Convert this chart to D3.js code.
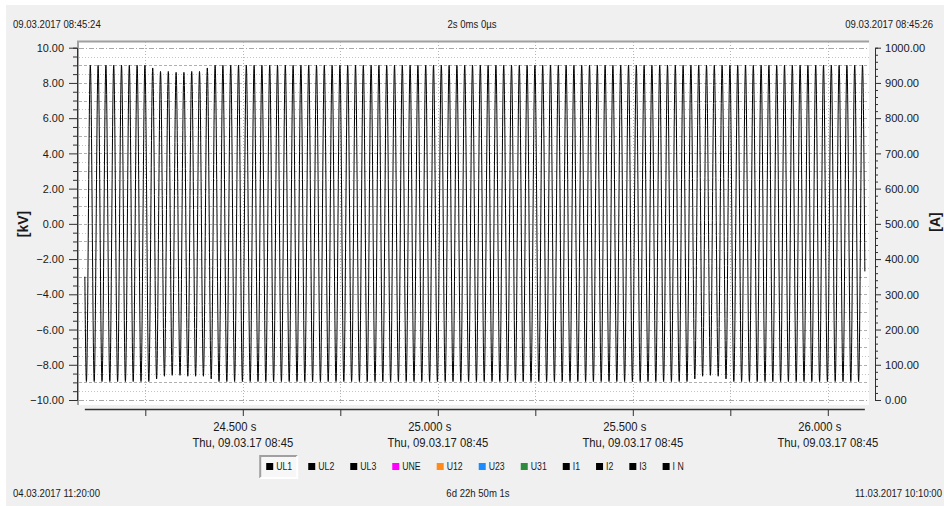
<!DOCTYPE html>
<html>
<head>
<meta charset="utf-8">
<script src="https://cdn.jsdelivr.net/npm/d3@7/dist/d3.min.js"></script>
<style>
  body { margin: 0; background: #fff; }
  svg { display: block; font-family: 'Liberation Sans', Arial, sans-serif; }
  .axis text { fill: #1a1a1a; }
  .axis line, .axis path { stroke: #303030; }
</style>
</head>
<body>
<svg id="chart" width="944" height="506"></svg>
<script>

// header / footer texts
var viewStart = '09.03.2017 08:45:24';
var viewEnd = '09.03.2017 08:45:26';
var viewSpan = '2s 0ms 0\u00b5s';
var rangeStart = '04.03.2017 11:20:00';
var rangeEnd = '11.03.2017 10:10:00';
var rangeSpan = '6d 22h 50m 1s';

// axes
var kvTicks = [ -10, -8, -6, -4, -2, 0, 2, 4, 6, 8, 10 ];
var ampTicks = [ 0, 100, 200, 300, 400, 500, 600, 700, 800, 900, 1000 ];
var timeTicks = [ 24.5, 25.0, 25.5, 26.0 ];
var timeMinor = [ 24.25, 24.75, 25.25, 25.75 ];
var timeDate = 'Thu, 09.03.17 08:45';

// legend
var channels = [ 'UL1', 'UL2', 'UL3', 'UNE', 'U12', 'U23', 'U31', 'I1', 'I2', 'I3', 'I N' ];
var channelColors = [ '#000000', '#000000', '#000000', '#ff00ff', '#ff8c1a', '#1a8cff', '#2e8b3e',
                      '#000000', '#000000', '#000000', '#000000' ];

// UL1 trace [kV] : one positive and one negative peak per 50 Hz cycle
var dataStart = 24.095, dataEnd = 26.095;
var startValue = -3.0, endValue = -2.7;
var firstLow = 24.099, period = 0.02;

var ul1High = [
    9.0, 9.0, 9.0, 9.0, 9.0, 9.0, 9.0, 9.0, 8.85, 8.65,
    8.65, 8.6, 8.6, 8.65, 8.65, 8.85, 9.0, 9.0, 9.0, 9.0,
    9.0, 9.0, 9.0, 9.0, 9.0, 9.0, 9.0, 9.0, 9.0, 9.0,
    9.0, 9.0, 9.0, 9.0, 9.0, 9.0, 9.0, 9.0, 9.0, 9.0,
    9.0, 9.0, 9.0, 9.0, 9.0, 9.0, 9.0, 9.0, 9.0, 9.0,
    9.0, 9.0, 9.0, 9.0, 9.0, 9.0, 9.0, 9.0, 9.0, 9.0,
    9.0, 9.0, 9.0, 9.0, 9.0, 9.0, 9.0, 9.0, 9.0, 9.0,
    9.0, 9.0, 9.0, 9.0, 9.0, 9.0, 9.0, 9.0, 9.0, 9.0,
    9.0, 9.0, 9.0, 9.0, 9.0, 9.0, 9.0, 9.0, 9.0, 9.0,
    9.0, 9.0, 9.0, 9.0, 9.0, 9.0, 9.0, 9.0, 9.0, 9.0
];

var ul1Low = [
    -8.95, -8.95, -8.95, -8.95, -8.95, -8.95, -8.95, -8.95, -8.95, -8.8,
    -8.65, -8.6, -8.6, -8.65, -8.65, -8.65, -8.8, -8.95, -8.95, -8.95,
    -8.95, -8.95, -8.95, -8.95, -8.95, -8.95, -8.95, -8.95, -8.95, -8.95,
    -8.95, -8.95, -8.95, -8.95, -8.95, -8.95, -8.95, -8.95, -8.95, -8.95,
    -8.95, -8.95, -8.95, -8.95, -8.95, -8.95, -8.95, -8.95, -8.95, -8.95,
    -8.95, -8.95, -8.95, -8.95, -8.95, -8.95, -8.95, -8.95, -8.95, -8.95,
    -8.95, -8.95, -8.95, -8.95, -8.95, -8.95, -8.95, -8.95, -8.95, -8.95,
    -8.95, -8.95, -8.95, -8.95, -8.95, -8.95, -8.95, -8.95, -8.8, -8.65,
    -8.6, -8.65, -8.8, -8.95, -8.95, -8.95, -8.95, -8.95, -8.95, -8.95,
    -8.95, -8.95, -8.95, -8.95, -8.95, -8.95, -8.95, -8.95, -8.95, -8.95
];


var width = 944,
    height = 506;

var svg = d3.select('#chart');

// the source font is narrower than Liberation Sans: squeeze texts horizontally
function squeeze ( sel, k ) {

    sel.each(function () {

        var t = d3.select( this );

        if ( t.attr('x') !== null ) t.attr('x', +t.attr('x') / k);

        t.selectAll('tspan').each(function () {
            var s = d3.select( this );
            if ( s.attr('x') !== null ) s.attr('x', +s.attr('x') / k);
        });

        t.attr('transform', ( t.attr('transform') || '' ) + ' scale(' + k + ',1)');

    });

}

svg.append('rect')
    .attr('x', 6)
    .attr('y', 5)
    .attr('width', width - 6)
    .attr('height', height - 5)
    .attr('fill', '#f0f0f0');

var plot = { left: 79, right: 869, top: 42, bottom: 405 };

var x = d3.scaleLinear()
    .domain([ 24.08, 26.1 ])
    .range([ 79, 866.8 ]);

var y = d3.scaleLinear()
    .domain([ -10, 10 ])
    .range([ 400, 47.7 ]);

var yAmp = d3.scaleLinear()
    .domain([ 0, 1000 ])
    .range([ 400, 47.7 ]);

// plot area
svg.append('rect')
    .attr('x', plot.left)
    .attr('y', plot.top)
    .attr('width', plot.right - plot.left)
    .attr('height', plot.bottom - plot.top)
    .attr('fill', '#ffffff');

svg.append('path')
    .attr('d', 'M' + (plot.left - 1) + ',' + plot.bottom + 'V' + (plot.top - 0.5) + 'H' + plot.right)
    .attr('fill', 'none')
    .attr('stroke', '#a0a0a0')
    .attr('stroke-width', 2);

// grid
var grid = svg.append('g');

d3.range( -10, 10.01, 0.5 ).forEach(function ( v ) {

    var dash = '1,2', col = '#c4c4c4';

    if ( Math.abs( v ) === 10 ) {
        dash = '5,2,1,2'; col = '#a8a8a8';
    } else if ( v % 1 === 0 ) {
        dash = '3,2'; col = '#b0b0b0';
    }

    grid.append('line')
        .attr('x1', plot.left)
        .attr('x2', plot.right)
        .attr('y1', Math.round( y( v ) ) + 0.5)
        .attr('y2', Math.round( y( v ) ) + 0.5)
        .attr('stroke', col)
        .attr('stroke-dasharray', dash);

});

timeTicks.concat( timeMinor ).forEach(function ( t ) {

    grid.append('line')
        .attr('x1', Math.round( x( t ) ) + 0.5)
        .attr('x2', Math.round( x( t ) ) + 0.5)
        .attr('y1', plot.top)
        .attr('y2', plot.bottom)
        .attr('stroke', '#b4b4b4')
        .attr('stroke-dasharray', '1,2');

});

// trace
var points = [ { t: dataStart, v: startValue } ];

ul1Low.forEach(function ( lo, k ) {
    var tLow = firstLow + k * period;
    points.push({ t: tLow, v: lo });
    points.push({ t: tLow + period / 2, v: ul1High[ k ] });
});

points.push({ t: dataEnd, v: endValue });

var line = d3.line()
    .x(function ( d ) { return x( d.t ); })
    .y(function ( d ) { return y( d.v ); })
    .curve( d3.curveMonotoneX );

svg.append('path')
    .datum( points )
    .attr('d', line)
    .attr('fill', 'none')
    .attr('stroke', '#000')
    .attr('stroke-width', 1);

// left axis
var kvMinor = d3.range( -10, 10.01, 0.5 ).filter(function ( v ) { return v % 2 !== 0; });

svg.append('g')
    .attr('class', 'axis')
    .attr('transform', 'translate(77,0)')
    .call( d3.axisLeft( y ).tickValues( kvMinor ).tickSize( 4 ).tickFormat('') );

var leftAxis = svg.append('g')
    .attr('class', 'axis')
    .attr('transform', 'translate(77,0)')
    .style('font-size', '11.5px')
    .call( d3.axisLeft( y ).tickValues( kvTicks ).tickSize( 8 ).tickSizeOuter( 0 ).tickPadding( 5 ).tickFormat( d3.format('.2f') ) );

squeeze( leftAxis.selectAll('text'), 0.95 );

// right axis
var ampMinor = d3.range( 0, 1001, 20 ).filter(function ( v ) { return v % 100 !== 0; });

svg.append('g')
    .attr('class', 'axis')
    .attr('transform', 'translate(875,0)')
    .call( d3.axisRight( yAmp ).tickValues( ampMinor ).tickSize( 3 ).tickFormat('') );

var rightAxis = svg.append('g')
    .attr('class', 'axis')
    .attr('transform', 'translate(875,0)')
    .style('font-size', '11.5px')
    .call( d3.axisRight( yAmp ).tickValues( ampTicks ).tickSize( 6 ).tickSizeOuter( 0 ).tickPadding( 4 ).tickFormat( d3.format('.2f') ) );

squeeze( rightAxis.selectAll('text'), 0.97 );

// bottom axis
var xAxis = svg.append('g')
    .attr('class', 'axis')
    .attr('transform', 'translate(0,409)')
    .style('font-size', '12px')
    .call( d3.axisBottom( x ).tickValues( timeTicks.concat( timeMinor ) ).tickSize( 7 ).tickSizeOuter( 0 ).tickFormat('') );

xAxis.select('.domain')
    .attr('d', 'M' + x( dataStart ) + ',0.5H' + x( dataEnd ))
    .attr('stroke-width', 1.5);

timeTicks.forEach(function ( t ) {

    var label = xAxis.append('text')
        .attr('class', 'time-label')
        .attr('text-anchor', 'middle')
        .attr('fill', '#1a1a1a');

    label.append('tspan')
        .attr('x', x( t ) - 8)
        .attr('y', 22.5)
        .text( d3.format('.3f')( t ) + ' s' );

    label.append('tspan')
        .attr('x', x( t ))
        .attr('y', 38)
        .text( timeDate );

});

squeeze( xAxis.selectAll('.time-label'), 0.94 );

// unit labels
svg.append('text')
    .attr('transform', 'translate(28,224) rotate(-90)')
    .attr('text-anchor', 'middle')
    .style('font-size', '14px')
    .style('font-weight', 'bold')
    .attr('fill', '#1a1a1a')
    .text('[kV]');

svg.append('text')
    .attr('transform', 'translate(940,222) rotate(-90)')
    .attr('text-anchor', 'middle')
    .style('font-size', '14px')
    .style('font-weight', 'bold')
    .attr('fill', '#1a1a1a')
    .text('[A]');

// header / footer
function info ( txt, xPos, yPos, anchor ) {
    var t = svg.append('text')
        .attr('x', xPos)
        .attr('y', yPos)
        .attr('text-anchor', anchor)
        .style('font-size', '11px')
        .attr('fill', '#1a1a1a')
        .text( txt );
    squeeze( t, 0.87 );
}

info( viewStart, 13, 28, 'start' );
info( viewSpan, 472, 28, 'middle' );
info( viewEnd, 933, 28, 'end' );
info( rangeStart, 13, 497, 'start' );
info( rangeSpan, 478, 497, 'middle' );
info( rangeEnd, 942, 497, 'end' );

// legend
var legend = svg.append('g');

var items = legend.selectAll('g')
    .data( channels )
    .enter().append('g');

items.append('rect')
    .attr('width', 7)
    .attr('height', 7)
    .attr('y', -7)
    .attr('fill', function ( d, i ) { return channelColors[ i ]; });

items.append('text')
    .attr('x', 10)
    .style('font-size', '11.5px')
    .attr('fill', '#1a1a1a')
    .text(function ( d ) { return d; });

squeeze( items.selectAll('text'), 0.76 );

var cursor = 0;

items.each(function () {
    var w = 10 + this.querySelector('text').getComputedTextLength() * 0.76;
    d3.select( this ).attr('transform', 'translate(' + cursor + ',0)');
    cursor += w + 16;
});

var legendWidth = cursor - 16;
var legendX = 475 - legendWidth / 2;

legend.attr('transform', 'translate(' + legendX + ',470)');

// pressed button around the active channel
var firstW = 10 + items.select('text').node().getComputedTextLength() * 0.76;

legend.insert('path', ':first-child')
    .attr('d', 'M-6,8H' + ( firstW + 5 ) + 'V-14')
    .attr('fill', 'none')
    .attr('stroke', '#ffffff')
    .attr('stroke-width', 2);

legend.insert('path', ':first-child')
    .attr('d', 'M-6,8V-14H' + ( firstW + 5 ))
    .attr('fill', 'none')
    .attr('stroke', '#a0a0a0')
    .attr('stroke-width', 2);

legend.insert('rect', ':first-child')
    .attr('x', -6)
    .attr('y', -14)
    .attr('width', firstW + 11)
    .attr('height', 22)
    .attr('fill', '#f7f7f7');

</script>
</body>
</html>
